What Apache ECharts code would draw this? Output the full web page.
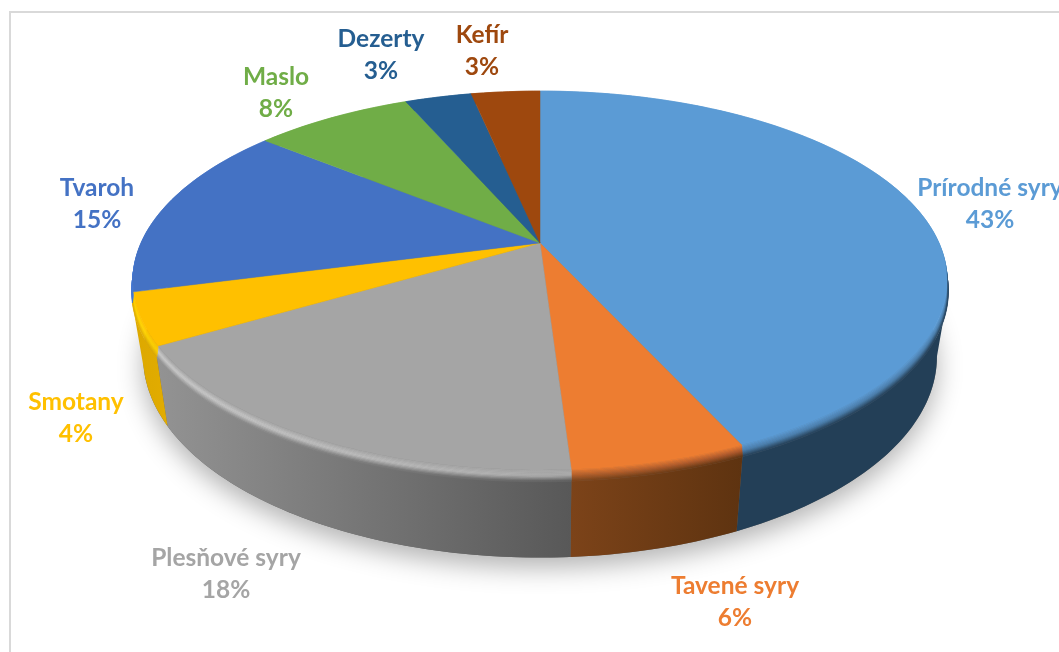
<!DOCTYPE html>
<html>
<head>
<meta charset="utf-8">
<style>
  html, body { margin: 0; padding: 0; background: #fff; }
  #main { width: 1059px; height: 652px; overflow: hidden; }
</style>
<script src="https://cdn.jsdelivr.net/npm/echarts@6/dist/echarts.min.js"></script>
</head>
<body>
<div id="main"></div>
<script>
const categories = ["Prírodné syry", "Tavené syry", "Plesňové syry", "Smotany", "Tvaroh", "Maslo", "Dezerty", "Kefír"];
// the labels are rounded, the slice sizes read off the picture are not
const shares = [43.2, 5.8, 17.5, 4.4, 15, 7.6, 3.2, 3.3];

// styling, one entry per category
const topColors = ["#5b9bd5", "#ed7d31", "#a5a5a5", "#ffc000", "#4472c4", "#70ad47", "#255e91", "#9e480e"];
const labelColors = ["#5b9bd5", "#ed7d31", "#a5a5a5", "#ffc000", "#4472c4", "#70ad47", "#255e91", "#9e480e"];
const wallColors = [
  ["#233f57", "#233f57"],
  ["#7c4319", "#5e3310"],
  ["#939393", "#585858"],
  ["#dca800", "#e2ac00"],
  ["#3f70c8", "#3f70c8"],
  ["#47702e", "#47702e"],
  ["#183d5e", "#183d5e"],
  ["#672f09", "#672f09"],
];
const rimMidColors = [
  ["#4a7faf", "#4a7faf"],
  ["#b5602a", "#b0582a"],
  ["#cecece", "#adadad"],
  ["#ffd400", "#ffd400"],
  ["#4c86e6", "#4c86e6"],
  ["#70ad47", "#70ad47"],
  ["#255e91", "#255e91"],
  ["#9e480e", "#9e480e"],
];
const labelCenters = [[990, 204.5], [735, 602.5], [226, 574], [76, 418.5], [97, 204.5], [276, 93.5], [381, 55], [482, 51]];

// tilted disc: perspective projection of a circle, fitted to the picture
const cx = 540;
const cy = 243;
const scaleX = 399;
const scaleY = 182;
const persp = 0.198;
const rimDrop = 11;
const rimGrow = 1.003;
const floorScaleX = 0.975;
const floorScaleY = 1.06;
const floorDrop = 74;
const leftTrim = 0.06;
const bands = 10;

const total = shares.reduce((a, b) => a + b, 0);

function sliceAngles(i) {
  let before = 0;
  for (let k = 0; k < i; k++) before += shares[k];
  const a0 = (before / total) * Math.PI * 2;
  return [a0, a0 + (shares[i] / total) * Math.PI * 2];
}

function project(angle, r) {
  const u = Math.sin(angle) * r;
  const v = -Math.cos(angle) * r;
  const d = 1 - persp * v;
  return [(scaleX * u) / d, (scaleY * v) / d];
}

function topPoint(angle) {
  const p = project(angle, 1);
  return [cx + p[0], cy + p[1]];
}

function rimPoint(angle, t) {
  const p = project(angle, 1 + (rimGrow - 1) * t);
  return [cx + p[0], cy + p[1] + rimDrop * t];
}

function floorPoint(angle) {
  const p = project(angle, 1);
  return [cx + p[0] * floorScaleX, cy + p[1] * floorScaleY + floorDrop];
}

function arcAngles(a0, a1) {
  const n = Math.max(2, Math.ceil((a1 - a0) / 0.02));
  const out = [];
  for (let k = 0; k <= n; k++) out.push(a0 + ((a1 - a0) * k) / n);
  return out;
}

function mixColor(c1, c2, t) {
  const parse = (c) => [1, 3, 5].map((s) => parseInt(c.slice(s, s + 2), 16));
  const a = parse(c1);
  const b = parse(c2);
  const m = a.map((x, i) => Math.round(x + (b[i] - x) * t));
  return `rgb(${m[0]},${m[1]},${m[2]})`;
}

function hGradient(pts, left, right) {
  const xs = pts.map((p) => p[0]);
  return new echarts.graphic.LinearGradient(Math.min(...xs), 0, Math.max(...xs), 0, [
    { offset: 0, color: left },
    { offset: 1, color: right },
  ], true);
}

function renderShadow() {
  const pts = arcAngles(0, Math.PI * 2).map(floorPoint);
  return {
    type: "polygon",
    shape: { points: pts },
    style: {
      fill: "#666",
      shadowBlur: 26,
      shadowColor: "rgba(0,0,0,0.3)",
      shadowOffsetX: 0,
      shadowOffsetY: 10,
    },
  };
}

function renderWall(params) {
  const i = params.dataIndex;
  const [a0, a1] = sliceAngles(i);
  // only the part of the edge that faces the viewer
  const faceR = Math.acos(-persp);
  const faceL = Math.PI * 2 - faceR - leftTrim;
  const from = Math.max(a0, faceR);
  const to = Math.min(a1, faceL);
  if (from >= to) return { type: "group", children: [] };
  const angles = arcAngles(from, to);
  const upper = angles.map((a) => rimPoint(a, 1));
  const lower = angles.map(floorPoint).reverse();
  const pts = upper.concat(lower);
  return {
    type: "polygon",
    shape: { points: pts },
    style: { fill: hGradient(pts, wallColors[i][0], wallColors[i][1]) },
  };
}

function renderRim(params) {
  const i = params.dataIndex;
  const [a0, a1] = sliceAngles(i);
  const angles = arcAngles(a0, a1);
  const children = [];
  for (let b = 0; b < bands; b++) {
    const t0 = b / bands;
    const t1 = (b + 1) / bands;
    const mid = (t0 + t1) / 2;
    const side = (s) => (mid < 0.5
      ? mixColor(topColors[i], rimMidColors[i][s], mid * 2)
      : mixColor(rimMidColors[i][s], wallColors[i][s], (mid - 0.5) * 2));
    const outer = angles.map((a) => rimPoint(a, t1));
    const inner = angles.map((a) => rimPoint(a, t0)).reverse();
    const pts = outer.concat(inner);
    const fill = hGradient(pts, side(0), side(1));
    children.push({
      type: "polygon",
      shape: { points: pts },
      style: { fill, stroke: fill, lineWidth: 0.6 },
    });
  }
  return { type: "group", children };
}

function renderTop(params) {
  const i = params.dataIndex;
  const [a0, a1] = sliceAngles(i);
  const pts = [[cx, cy]].concat(arcAngles(a0, a1).map(topPoint));
  return {
    type: "polygon",
    shape: { points: pts },
    style: { fill: topColors[i], stroke: topColors[i], lineWidth: 0.5 },
  };
}

function renderLabel(params, api) {
  const i = params.dataIndex;
  return {
    type: "text",
    style: {
      x: labelCenters[i][0],
      y: labelCenters[i][1],
      text: `${categories[i]}\n${Math.round(api.value(0))}%`,
      fill: labelColors[i],
      fontFamily: "Lato",
      fontWeight: 700,
      fontSize: 24.5,
      lineHeight: 32,
      align: "center",
      verticalAlign: "middle",
    },
  };
}

function layer(name, renderItem, z, data) {
  return {
    name,
    type: "custom",
    coordinateSystem: "none",
    silent: true,
    clip: false,
    z,
    data: data || shares,
    renderItem,
  };
}

const chart = echarts.init(document.getElementById("main"), null, { renderer: "canvas" });
chart.setOption({
  animation: false,
  backgroundColor: "#fff",
  graphic: [
    {
      type: "rect",
      z: 0,
      shape: { x: 10, y: 12, width: 1200, height: 800 },
      style: { fill: "#fff", stroke: "#d9d9d9", lineWidth: 2 },
    },
  ],
  series: [
    layer("shadow", renderShadow, 1, [0]),
    layer("wall", renderWall, 2),
    layer("rim", renderRim, 3),
    layer("top", renderTop, 4),
    layer("labels", renderLabel, 5),
  ],
});
</script>
</body>
</html>
